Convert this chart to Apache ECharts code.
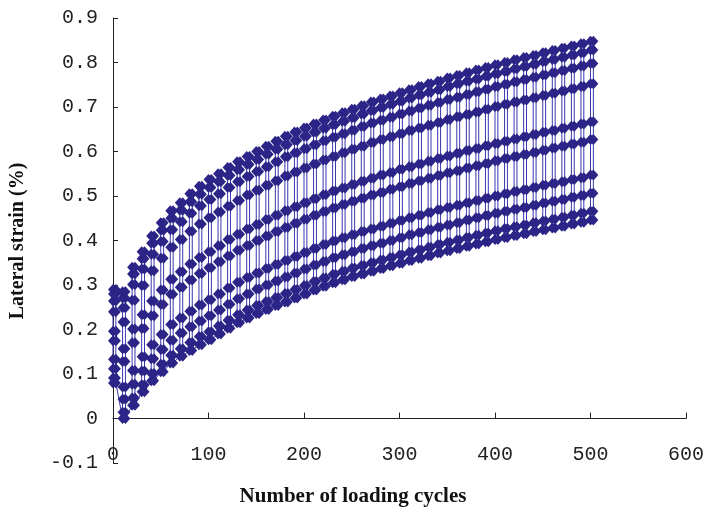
<!DOCTYPE html>
<html>
<head>
<meta charset="utf-8">
<script src="https://cdn.jsdelivr.net/npm/echarts@6/dist/echarts.min.js"></script>
<style>
html,body{margin:0;padding:0;background:#fff;}
#chart{width:708px;height:514px;}
</style>
</head>
<body>
<div id="chart"></div>
<script>
// Cycle numbers of each loading block (loading branch and unloading branch)
const loadingCycles = [0,10,20,30,40,50,60,70,80,90,100,110,120,130,140,150,160,170,180,190,200,210,220,230,240,250,260,270,280,290,300,310,320,330,340,350,360,370,380,390,400,410,420,430,440,450,460,470,480,490,500];
const unloadingCycles = [3,13,23,33,43,53,63,73,83,93,103,113,123,133,143,153,163,173,183,193,203,213,223,233,243,253,263,273,283,293,303,313,323,333,343,353,363,373,383,393,403,413,423,433,443,453,463,473,483,493,503];

// Lateral strain (%) at each load stage, one value per block
const stage1 = [0.080,0.000,0.030,0.060,0.085,0.105,0.125,0.140,0.153,0.166,0.177,0.190,0.203,0.215,0.226,0.236,0.245,0.254,0.262,0.271,0.280,0.289,0.297,0.305,0.312,0.319,0.325,0.331,0.337,0.343,0.349,0.355,0.360,0.366,0.372,0.377,0.382,0.387,0.392,0.397,0.402,0.407,0.411,0.415,0.420,0.424,0.428,0.432,0.437,0.441,0.446];
const stage2 = [0.091,0.014,0.046,0.076,0.101,0.122,0.142,0.157,0.171,0.184,0.195,0.208,0.221,0.233,0.244,0.254,0.263,0.272,0.281,0.290,0.299,0.308,0.316,0.324,0.331,0.338,0.344,0.350,0.356,0.362,0.368,0.374,0.379,0.385,0.391,0.396,0.401,0.407,0.412,0.417,0.422,0.427,0.431,0.435,0.440,0.444,0.448,0.452,0.457,0.461,0.466];
const stage3 = [0.112,0.043,0.077,0.107,0.134,0.155,0.176,0.192,0.206,0.219,0.231,0.244,0.257,0.269,0.280,0.291,0.300,0.309,0.318,0.327,0.336,0.345,0.353,0.361,0.368,0.375,0.382,0.388,0.394,0.400,0.406,0.413,0.418,0.424,0.430,0.435,0.440,0.446,0.451,0.456,0.461,0.466,0.470,0.474,0.479,0.484,0.488,0.492,0.497,0.501,0.506];
const stage4 = [0.133,0.071,0.108,0.139,0.166,0.189,0.211,0.226,0.241,0.255,0.267,0.280,0.293,0.306,0.317,0.327,0.337,0.346,0.355,0.364,0.373,0.382,0.391,0.399,0.406,0.413,0.420,0.426,0.432,0.439,0.445,0.451,0.457,0.463,0.469,0.474,0.479,0.485,0.490,0.495,0.500,0.505,0.510,0.514,0.519,0.524,0.528,0.532,0.537,0.541,0.547];
const stage5 = [0.175,0.128,0.170,0.202,0.231,0.256,0.279,0.295,0.311,0.326,0.339,0.352,0.365,0.378,0.389,0.400,0.410,0.420,0.429,0.439,0.448,0.457,0.465,0.473,0.481,0.488,0.495,0.502,0.508,0.515,0.521,0.528,0.534,0.540,0.546,0.552,0.557,0.563,0.568,0.573,0.579,0.584,0.589,0.593,0.598,0.603,0.608,0.612,0.617,0.621,0.627];
const stage6 = [0.196,0.157,0.201,0.233,0.264,0.289,0.313,0.330,0.347,0.362,0.375,0.388,0.402,0.414,0.426,0.436,0.447,0.457,0.467,0.476,0.485,0.494,0.503,0.511,0.518,0.526,0.533,0.540,0.547,0.553,0.560,0.566,0.572,0.578,0.584,0.590,0.596,0.602,0.607,0.613,0.618,0.623,0.628,0.633,0.638,0.643,0.647,0.652,0.657,0.662,0.667];
const stage7 = [0.240,0.217,0.266,0.299,0.332,0.360,0.385,0.402,0.421,0.437,0.451,0.464,0.477,0.490,0.502,0.513,0.524,0.534,0.545,0.554,0.563,0.572,0.581,0.589,0.597,0.605,0.612,0.620,0.627,0.633,0.640,0.647,0.653,0.659,0.665,0.672,0.678,0.683,0.689,0.695,0.701,0.706,0.711,0.716,0.721,0.726,0.731,0.736,0.741,0.746,0.752];
const stage8 = [0.264,0.249,0.301,0.336,0.369,0.398,0.424,0.442,0.461,0.478,0.492,0.505,0.519,0.532,0.544,0.555,0.566,0.577,0.588,0.597,0.606,0.615,0.624,0.632,0.640,0.648,0.656,0.664,0.670,0.677,0.684,0.691,0.698,0.704,0.710,0.717,0.722,0.728,0.734,0.740,0.746,0.751,0.757,0.762,0.767,0.772,0.777,0.782,0.787,0.792,0.798];
const stage9 = [0.280,0.271,0.325,0.359,0.394,0.423,0.450,0.468,0.487,0.504,0.519,0.532,0.546,0.559,0.571,0.582,0.594,0.605,0.615,0.625,0.634,0.643,0.652,0.660,0.668,0.676,0.684,0.692,0.699,0.706,0.713,0.720,0.727,0.733,0.739,0.746,0.752,0.758,0.763,0.769,0.775,0.780,0.786,0.791,0.796,0.802,0.807,0.812,0.817,0.822,0.828];
const stage10 = [0.290,0.285,0.340,0.375,0.410,0.440,0.467,0.485,0.505,0.522,0.537,0.550,0.564,0.577,0.589,0.600,0.612,0.623,0.634,0.644,0.653,0.662,0.671,0.679,0.687,0.695,0.703,0.711,0.718,0.725,0.732,0.739,0.746,0.752,0.758,0.765,0.771,0.777,0.783,0.789,0.795,0.800,0.806,0.811,0.816,0.822,0.827,0.832,0.837,0.842,0.848];

// Axis tick labels
const xTickLabels = ['0','100','200','300','400','500','600'];
const yTickLabels = ['-0.1','0','0.1','0.2','0.3','0.4','0.5','0.6','0.7','0.8','0.9'];

const stages = [stage1,stage2,stage3,stage4,stage5,stage6,stage7,stage8,stage9,stage10];
const points = [];
for (let k = 0; k < loadingCycles.length; k++) {
  for (let s = 0; s < stages.length; s++) points.push([loadingCycles[k], stages[s][k]]);
  for (let s = stages.length - 1; s >= 0; s--) points.push([unloadingCycles[k], stages[s][k]]);
}

const chart = echarts.init(document.getElementById('chart'), null, {renderer: 'canvas'});
const labelFont = {color: '#222', fontFamily: 'Liberation Mono', fontSize: 20};
chart.setOption({
  animation: false,
  backgroundColor: '#fff',
  grid: {left: 113, right: 22, top: 18, bottom: 51, containLabel: false},
  xAxis: {
    type: 'value', min: 0, max: 600, interval: 100,
    axisLine: {show: true, onZero: true, lineStyle: {color: '#222', width: 1}},
    axisTick: {show: true, inside: true, length: 6, lineStyle: {color: '#222'}},
    splitLine: {show: false},
    axisLabel: Object.assign({margin: -18, formatter: (v) => xTickLabels[Math.round(v / 100)]}, labelFont)
  },
  yAxis: {
    type: 'value', min: -0.1, max: 0.9, interval: 0.1,
    axisLine: {show: true, lineStyle: {color: '#222', width: 1}},
    axisTick: {show: true, inside: true, length: 5, lineStyle: {color: '#222'}},
    splitLine: {show: false},
    axisLabel: Object.assign({margin: 15, formatter: (v) => yTickLabels[Math.round(v * 10) + 1]}, labelFont)
  },
  graphic: [
    {type: 'text', x: 353, y: 497, style: {text: 'Number of loading cycles', fill: '#111', font: 'bold 21px "Liberation Serif"', align: 'center', verticalAlign: 'middle', textAlign: 'center', textVerticalAlign: 'middle'}},
    {type: 'text', x: 18, y: 241, rotation: Math.PI / 2, style: {text: 'Lateral strain (%)', fill: '#111', font: 'bold 20px "Liberation Serif"', align: 'center', verticalAlign: 'middle', textAlign: 'center', textVerticalAlign: 'middle'}}
  ],
  series: [{
    type: 'line',
    data: points,
    showAllSymbol: true,
    symbol: 'diamond',
    symbolSize: [10, 11],
    itemStyle: {color: '#2D2488'},
    lineStyle: {color: '#3A36B0', width: 1},
    emphasis: {disabled: true},
    z: 1
  }]
});
</script>
</body>
</html>
